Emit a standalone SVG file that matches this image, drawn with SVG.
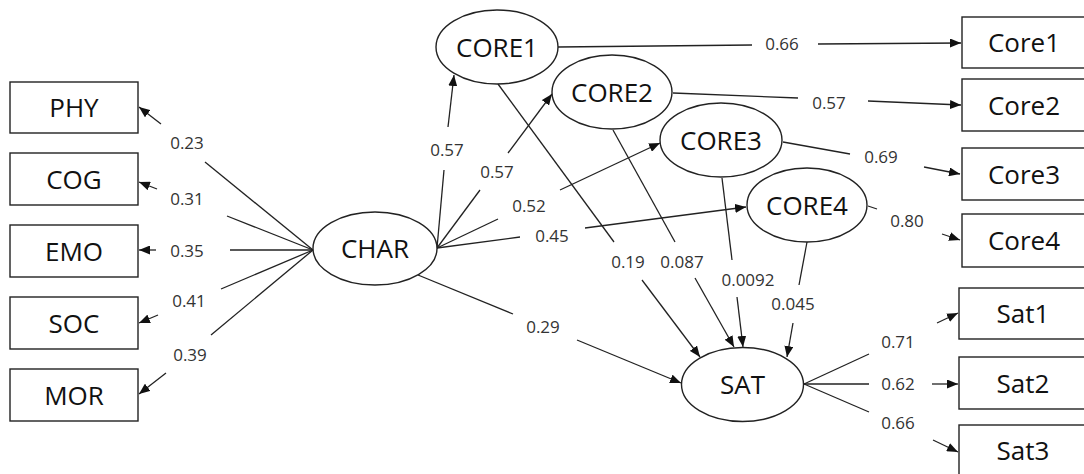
<svg xmlns="http://www.w3.org/2000/svg" width="1084" height="474" viewBox="0 0 1084 474">
<style>
.box{fill:#fff;stroke:#222;stroke-width:1.4}
.ell{fill:#fff;stroke:#222;stroke-width:1.4}
.nt{font-family:"Open Sans","DejaVu Sans",sans-serif;font-size:26px;fill:#111;text-anchor:middle}
.lb{font-family:"Open Sans","DejaVu Sans",sans-serif;font-size:17px;fill:#333;text-anchor:middle}
.ln{fill:none;stroke:#222;stroke-width:1.3}
.ar{fill:none;stroke:#222;stroke-width:1.3;marker-end:url(#ah)}
</style>
<defs>
<marker id="ah" markerUnits="userSpaceOnUse" markerWidth="12" markerHeight="9" refX="11" refY="4.5" orient="auto">
<path d="M0,0 L11,4.5 L0,9 z" fill="#111"/>
</marker>
</defs>
<rect width="1084" height="474" fill="#fff"/>

<g id="connectors">
<g id="e-phy"><line class="ln" x1="313" y1="250" x2="205" y2="162"/><line class="ar" x1="161" y1="124" x2="139" y2="107"/><text class="lb" x="187" y="149">0.23</text></g>
<g id="e-cog"><line class="ln" x1="313" y1="250" x2="227" y2="216"/><line class="ar" x1="157" y1="189" x2="139" y2="182"/><text class="lb" x="187" y="205">0.31</text></g>
<g id="e-emo"><line class="ln" x1="313" y1="250" x2="230" y2="250"/><line class="ar" x1="156" y1="250" x2="139" y2="250"/><text class="lb" x="187" y="257">0.35</text></g>
<g id="e-soc"><line class="ln" x1="313" y1="250" x2="221" y2="289"/><line class="ar" x1="158" y1="315" x2="139" y2="323"/><text class="lb" x="189" y="307">0.41</text></g>
<g id="e-mor"><line class="ln" x1="313" y1="250" x2="211" y2="335"/><line class="ar" x1="166" y1="373" x2="139" y2="394"/><text class="lb" x="190" y="361">0.39</text></g>

<g id="e-core1"><line class="ln" x1="437" y1="248" x2="444" y2="170"/><line class="ar" x1="448" y1="127" x2="454" y2="75"/><text class="lb" x="447" y="156">0.57</text></g>
<g id="e-core2"><line class="ln" x1="437" y1="248" x2="480" y2="190"/><line class="ar" x1="508" y1="153" x2="552" y2="94"/><text class="lb" x="497" y="178">0.57</text></g>
<g id="e-core3"><line class="ln" x1="437" y1="248" x2="498" y2="219"/><line class="ar" x1="560" y1="190" x2="660" y2="143"/><text class="lb" x="529" y="212">0.52</text></g>
<g id="e-core4"><line class="ln" x1="437" y1="248" x2="520" y2="237"/><line class="ar" x1="585" y1="228" x2="746" y2="207"/><text class="lb" x="552" y="242">0.45</text></g>
<g id="e-charsat"><line class="ln" x1="418" y1="275" x2="513" y2="314"/><line class="ar" x1="577" y1="340" x2="681" y2="383"/><text class="lb" x="543" y="333">0.29</text></g>

<g id="e-c1"><line class="ln" x1="558" y1="47" x2="752" y2="45"/><line class="ar" x1="818" y1="44" x2="961" y2="43"/><text class="lb" x="782" y="50">0.66</text></g>
<g id="e-c2"><line class="ln" x1="673" y1="93" x2="798" y2="98"/><line class="ar" x1="868" y1="101" x2="961" y2="105"/><text class="lb" x="829" y="109">0.57</text></g>
<g id="e-c3"><line class="ln" x1="783" y1="142" x2="850" y2="154"/><line class="ar" x1="924" y1="167" x2="960" y2="174"/><text class="lb" x="881" y="163">0.69</text></g>
<g id="e-c4"><line class="ln" x1="868" y1="206" x2="877" y2="209"/><line class="ar" x1="942" y1="234" x2="960" y2="240"/><text class="lb" x="907" y="227">0.80</text></g>

<g id="e-s1"><line class="ln" x1="498" y1="84" x2="614" y2="242"/><line class="ar" x1="642" y1="280" x2="700" y2="357"/><text class="lb" x="628" y="268">0.19</text></g>
<g id="e-s2"><line class="ln" x1="613" y1="130" x2="675" y2="242"/><line class="ar" x1="695" y1="278" x2="734" y2="347"/><text class="lb" x="682" y="268">0.087</text></g>
<g id="e-s3"><line class="ln" x1="722" y1="178" x2="732" y2="260"/><line class="ar" x1="737" y1="297" x2="743" y2="347"/><text class="lb" x="748" y="286">0.0092</text></g>
<g id="e-s4"><line class="ln" x1="807" y1="242" x2="799" y2="285"/><line class="ar" x1="793" y1="323" x2="787" y2="357"/><text class="lb" x="793" y="310">0.045</text></g>

<g id="e-sat1"><line class="ln" x1="804" y1="384" x2="869" y2="354"/><line class="ar" x1="937" y1="323" x2="958" y2="313"/><text class="lb" x="898" y="348">0.71</text></g>
<g id="e-sat2"><line class="ln" x1="804" y1="384" x2="869" y2="384"/><line class="ar" x1="932" y1="384" x2="958" y2="384"/><text class="lb" x="898" y="390">0.62</text></g>
<g id="e-sat3"><line class="ln" x1="804" y1="384" x2="869" y2="412"/><line class="ar" x1="933" y1="440" x2="958" y2="452"/><text class="lb" x="898" y="429">0.66</text></g>
</g>

<g id="PHY"><rect class="box" x="10" y="82" width="128" height="51"/><text class="nt" x="74" y="117">PHY</text></g>
<g id="COG"><rect class="box" x="10" y="153" width="128" height="52"/><text class="nt" x="74" y="188.5">COG</text></g>
<g id="EMO"><rect class="box" x="10" y="225" width="128" height="52"/><text class="nt" x="74" y="260.5">EMO</text></g>
<g id="SOC"><rect class="box" x="10" y="297" width="128" height="52"/><text class="nt" x="74" y="332.5">SOC</text></g>
<g id="MOR"><rect class="box" x="10" y="369" width="128" height="52"/><text class="nt" x="74" y="404.5">MOR</text></g>

<g id="CHAR"><ellipse class="ell" cx="375" cy="248.5" rx="62" ry="36.5"/><text class="nt" x="375" y="258">CHAR</text></g>
<g id="CORE1"><ellipse class="ell" cx="497" cy="47" rx="61" ry="37"/><text class="nt" x="497" y="56.5">CORE1</text></g>
<g id="CORE2"><ellipse class="ell" cx="612" cy="92" rx="60" ry="37"/><text class="nt" x="612" y="101.5">CORE2</text></g>
<g id="CORE3"><ellipse class="ell" cx="721" cy="140" rx="61" ry="37"/><text class="nt" x="721" y="149.5">CORE3</text></g>
<g id="CORE4"><ellipse class="ell" cx="807" cy="205" rx="60" ry="37"/><text class="nt" x="807" y="214.5">CORE4</text></g>
<g id="SAT"><ellipse class="ell" cx="742.5" cy="384.5" rx="61" ry="37"/><text class="nt" x="742.5" y="394">SAT</text></g>

<g id="Core1"><rect class="box" x="962" y="17" width="130" height="51"/><text class="nt" x="1024" y="52">Core1</text></g>
<g id="Core2"><rect class="box" x="962" y="79" width="130" height="52"/><text class="nt" x="1024" y="114.5">Core2</text></g>
<g id="Core3"><rect class="box" x="962" y="148" width="130" height="52"/><text class="nt" x="1024" y="183.5">Core3</text></g>
<g id="Core4"><rect class="box" x="962" y="214" width="130" height="53"/><text class="nt" x="1024" y="250">Core4</text></g>
<g id="Sat1"><rect class="box" x="959" y="288" width="133" height="51"/><text class="nt" x="1023" y="323">Sat1</text></g>
<g id="Sat2"><rect class="box" x="959" y="357" width="133" height="52"/><text class="nt" x="1023" y="392.5">Sat2</text></g>
<g id="Sat3"><rect class="box" x="959" y="425" width="133" height="55"/><text class="nt" x="1023" y="460">Sat3</text></g>
</svg>
